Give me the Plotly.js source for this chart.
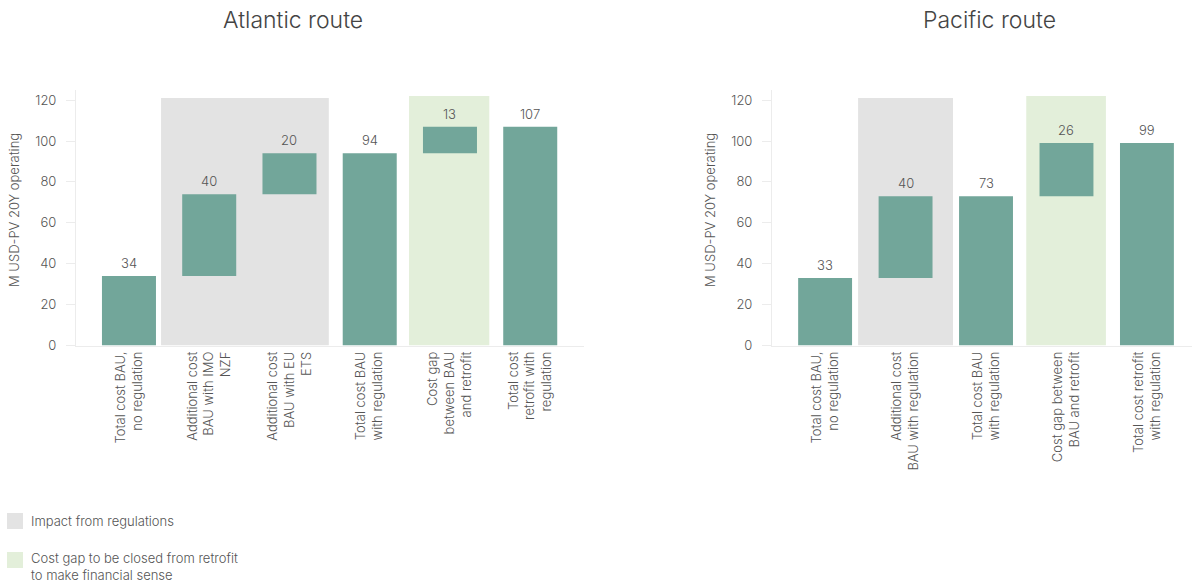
<!DOCTYPE html>
<html>
<head>
<meta charset="utf-8">
<script src="https://cdn.plot.ly/plotly-3.0.1.min.js"></script>
<style>html,body{margin:0;padding:0;background:#fff;}#chart{width:1192px;height:586px;}</style>
</head>
<body>
<div id="chart"></div>
<script>
// ---- Data ----
const atlCategories = [
  "Total cost BAU,<br>no regulation",
  "Additional cost<br>BAU with IMO<br>NZF",
  "Additional cost<br>BAU with EU<br>ETS",
  "Total cost BAU<br>with regulation",
  "Cost gap<br>between BAU<br>and retrofit",
  "Total cost<br>retrofit with<br>regulation"
];
const atlBase = [0, 34, 74, 0, 94, 0];
const atlValues = [34, 40, 20, 94, 13, 107];

const pacCategories = [
  "Total cost BAU,<br>no regulation",
  "Additional cost<br>BAU with regulation",
  "Total cost BAU<br>with regulation",
  "Cost gap between<br>BAU and retrofit",
  "Total cost retrofit<br>with regulation"
];
const pacBase = [0, 33, 0, 73, 0];
const pacValues = [33, 40, 73, 26, 99];

const yTicks = [0, 20, 40, 60, 80, 100, 120];
const chartTitles = ["Atlantic route", "Pacific route"];
const yTitle = "M USD-PV 20Y operating";
const legendLabels = ["Impact from regulations", "Cost gap to be closed from retrofit<br>to make financial sense"];

// ---- Style ----
const W = 1192, H = 586;
const barColor = "#72a69a";
const grayBg = "#e3e3e3";
const greenBg = "#e3efda";
const textColor = "#555555";
const font = "Inter, 'Open Sans', sans-serif";
const px = v => v / W;
const py = v => 1 - v / H;

const traces = [
  {type: "bar", x: atlCategories, y: atlValues, base: atlBase, xaxis: "x", yaxis: "y",
   marker: {color: barColor}, width: 0.673, hoverinfo: "skip"},
  {type: "bar", x: pacCategories, y: pacValues, base: pacBase, xaxis: "x2", yaxis: "y2",
   marker: {color: barColor}, width: 0.67, hoverinfo: "skip"}
];

const lblFont = {family: font, size: 13, color: textColor, weight: 300};
const annotations = [];
atlValues.forEach((v, i) => annotations.push({
  xref: "x", yref: "y", x: i, y: atlBase[i] + v, text: String(v), showarrow: false,
  yanchor: "bottom", yshift: 3, font: lblFont
}));
pacValues.forEach((v, i) => annotations.push({
  xref: "x2", yref: "y2", x: i, y: pacBase[i] + v, text: String(v), showarrow: false,
  yanchor: "bottom", yshift: 3, font: lblFont
}));
// titles
annotations.push({xref: "paper", yref: "paper", x: px(293), y: py(20), text: chartTitles[0], showarrow: false,
  xanchor: "center", yanchor: "middle", font: {family: font, size: 23, color: "#444", weight: 300}});
annotations.push({xref: "paper", yref: "paper", x: px(989), y: py(20), text: chartTitles[1], showarrow: false,
  xanchor: "center", yanchor: "middle", font: {family: font, size: 23, color: "#444", weight: 300}});
// y titles
annotations.push({xref: "paper", yref: "paper", x: px(14), y: py(210), text: yTitle, showarrow: false, textangle: -90,
  xanchor: "center", yanchor: "middle", font: lblFont});
annotations.push({xref: "paper", yref: "paper", x: px(710), y: py(210), text: yTitle, showarrow: false, textangle: -90,
  xanchor: "center", yanchor: "middle", font: lblFont});
// legend
annotations.push({xref: "paper", yref: "paper", x: px(29), y: py(521), text: legendLabels[0], showarrow: false,
  xanchor: "left", yanchor: "middle", align: "left", font: {family: font, size: 13, color: textColor, weight: 300}});
annotations.push({xref: "paper", yref: "paper", x: px(29), y: py(566), text: legendLabels[1], showarrow: false,
  xanchor: "left", yanchor: "middle", align: "left", font: {family: font, size: 13, color: textColor, weight: 300}});

const shapes = [
  {type: "rect", xref: "x", yref: "y", x0: 0.40, x1: 2.49, y0: 0, y1: 121, fillcolor: grayBg, line: {width: 0}, layer: "below"},
  {type: "rect", xref: "x", yref: "y", x0: 3.49, x1: 4.49, y0: 0, y1: 122, fillcolor: greenBg, line: {width: 0}, layer: "below"},
  {type: "rect", xref: "x2", yref: "y2", x0: 0.41, x1: 1.59, y0: 0, y1: 121, fillcolor: grayBg, line: {width: 0}, layer: "below"},
  {type: "rect", xref: "x2", yref: "y2", x0: 2.50, x1: 3.49, y0: 0, y1: 122, fillcolor: greenBg, line: {width: 0}, layer: "below"},
  {type: "rect", xref: "paper", yref: "paper", x0: px(7), x1: px(23), y0: py(529), y1: py(513), fillcolor: grayBg, line: {width: 0}},
  {type: "rect", xref: "paper", yref: "paper", x0: px(7), x1: px(23), y0: py(568), y1: py(552), fillcolor: greenBg, line: {width: 0}}
];

const plotTop = 90, plotBottom = 345.5;
const yRangeMax = (plotBottom - plotTop) / 2.045;

const yAxisCommon = {
  range: [0, yRangeMax], tickvals: yTicks, showgrid: false, zeroline: false,
  showline: true, linecolor: "#ececec", linewidth: 1,
  ticks: "outside", ticklen: 9, tickcolor: "#ececec", ticklabelstandoff: 7,
  tickfont: lblFont, fixedrange: true
};
const xAxisCommon = {
  type: "category", showgrid: false, zeroline: false, showline: true, linecolor: "#ececec", linewidth: 1,
  ticks: "", tickangle: -90, tickfont: lblFont, fixedrange: true
};

const layout = {
  width: W, height: H, margin: {l: 0, r: 0, t: 0, b: 0},
  paper_bgcolor: "#fff", plot_bgcolor: "rgba(0,0,0,0)",
  showlegend: false, barmode: "overlay",
  xaxis: Object.assign({}, xAxisCommon, {domain: [px(76), px(584)], range: [-0.66, 5.67], anchor: "y"}),
  yaxis: Object.assign({}, yAxisCommon, {domain: [py(plotBottom), py(plotTop)], anchor: "x"}),
  xaxis2: Object.assign({}, xAxisCommon, {domain: [px(772), 1], range: [-0.66, 4.56], anchor: "y2"}),
  yaxis2: Object.assign({}, yAxisCommon, {domain: [py(plotBottom), py(plotTop)], anchor: "x2"}),
  shapes: shapes, annotations: annotations
};

Plotly.newPlot("chart", traces, layout, {displayModeBar: false, staticPlot: true});
</script>
</body>
</html>
